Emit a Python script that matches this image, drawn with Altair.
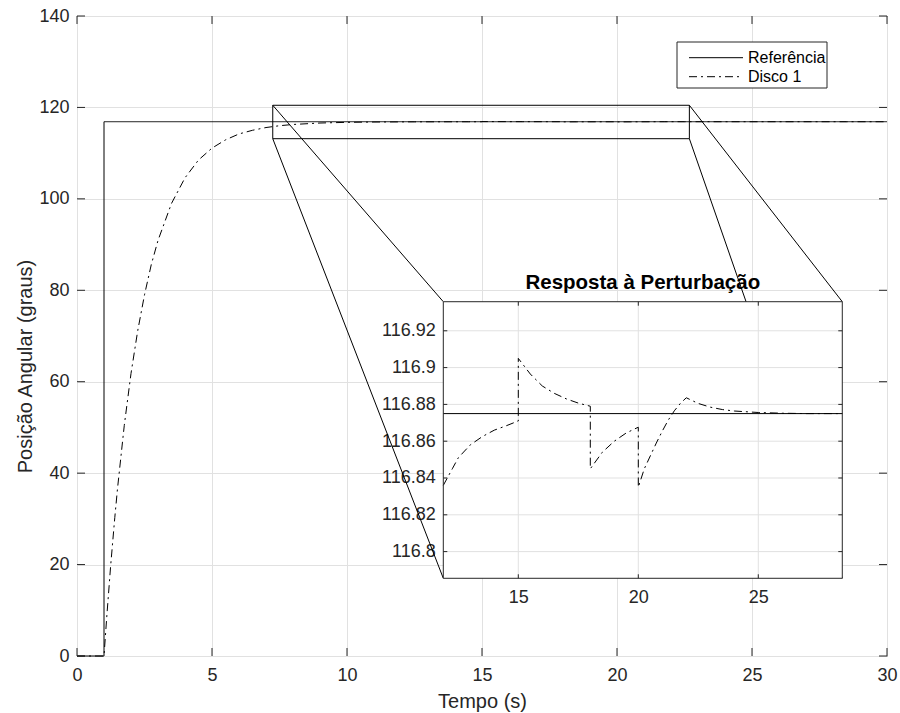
import altair as alt
import pandas as pd

FONT = "Liberation Sans"
AX = "#262626"
GRID = "#e1e1e1"
INK = "#000000"

# ---------------- data ----------------
SERIES = ["Referência", "Disco 1"]

REF_T = [0, 1, 1, 30]
REF_V = [0, 0, 116.875, 116.875]

DISCO_T = [0, 1, 1.1, 1.25, 1.4, 1.5, 1.75, 2, 2.25, 2.5, 2.75, 3, 3.5, 4, 4.5, 5, 5.5, 6, 6.5, 7, 7.5, 8, 9, 10, 11,
           11.875, 12.25, 12.5, 13, 13.5, 14, 14.5, 15, 15, 15.5, 16, 16.5, 17, 17.5, 18, 18, 18.5, 19, 19.5, 20, 20,
           20.25, 20.5, 20.75, 21, 21.25, 21.5, 21.75, 22, 22.5, 23, 23.5, 24, 25, 26, 27, 28.5, 30]
DISCO_V = [0, 0, 8.4, 20.0, 30.3, 36.6, 50.4, 61.8, 71.2, 79.0, 85.6, 90.9, 99.0, 104.6, 108.5, 111.1, 112.9, 114.2,
           115.0, 115.6, 116.0, 116.27, 116.59, 116.74, 116.81,
           116.836, 116.845, 116.851, 116.858, 116.8625, 116.866, 116.8684, 116.871, 116.905, 116.8965, 116.890,
           116.886, 116.883, 116.8807, 116.879, 116.845, 116.854, 116.860, 116.8645, 116.8676, 116.835,
           116.845, 116.852, 116.859, 116.8655, 116.8715, 116.8765, 116.8805, 116.8836, 116.8805, 116.8785,
           116.8772, 116.8764, 116.8756, 116.8752, 116.875, 116.875, 116.875]

MAIN_X_TICKS = [0, 5, 10, 15, 20, 25, 30]
MAIN_Y_TICKS = [0, 20, 40, 60, 80, 100, 120, 140]
INSET_X_TICKS = [15, 20, 25]
INSET_Y_TICKS = [116.8, 116.82, 116.84, 116.86, 116.88, 116.9, 116.92]

X_TITLE = "Tempo (s)"
Y_TITLE = "Posição Angular (graus)"
INSET_TITLE = "Resposta à Perturbação"

MAIN_X_DOMAIN = [0, 30]
MAIN_Y_DOMAIN = [0, 140]
# zoom rectangle drawn on the main axes (main data units)
ZOOM_X = [7.25, 22.68]
ZOOM_Y = [113.16, 120.47]
# where the inset sits on the main axes (main data units)
INSET_POS_X = [13.567, 28.344]
INSET_POS_Y = [17.0, 77.5]
# data window shown in the inset
INSET_X_DOMAIN = [11.875, 28.5]
INSET_Y_DOMAIN = [116.7855, 116.9358]

assert len(DISCO_T) == len(DISCO_V)

# ---------------- layout ----------------
W, H = 810, 640
PAD = {"left": 77, "top": 16, "right": 13, "bottom": 57}
TICK_FS = 18


def px(x):
    return (x - MAIN_X_DOMAIN[0]) / (MAIN_X_DOMAIN[1] - MAIN_X_DOMAIN[0]) * W


def py(y):
    return (1 - (y - MAIN_Y_DOMAIN[0]) / (MAIN_Y_DOMAIN[1] - MAIN_Y_DOMAIN[0])) * H


IX0, IX1 = px(INSET_POS_X[0]), px(INSET_POS_X[1])
IY_BOT, IY_TOP = py(INSET_POS_Y[0]), py(INSET_POS_Y[1])

DASH_SCALE = alt.Scale(domain=SERIES, range=[[1, 0], [8, 4, 2, 4]])

# ---------------- tables ----------------
rows = []
for k, (t, v) in enumerate(zip(REF_T, REF_V)):
    rows.append({"series": SERIES[0], "t": t, "v": v, "i": k})
for k, (t, v) in enumerate(zip(DISCO_T, DISCO_V)):
    rows.append({"series": SERIES[1], "t": t, "v": v, "i": k})
df_lines = pd.DataFrame(rows)
df_disco = df_lines[df_lines["series"] == SERIES[1]]

# ---------------- main axes ----------------
XS = alt.Scale(domain=MAIN_X_DOMAIN, nice=False, zero=False)
YS = alt.Scale(domain=MAIN_Y_DOMAIN, nice=False, zero=False)
COMMON = dict(ticks=False, tickSize=0, domain=False, labelFont=FONT, labelFontSize=TICK_FS, labelColor=AX,
              labelFlush=False, labelOverlap=False)
MX_AXIS = alt.Axis(values=MAIN_X_TICKS, orient="bottom", title=X_TITLE, grid=True, gridColor=GRID,
                   labelPadding=10, titleFont=FONT, titleFontSize=20, titleFontWeight="normal",
                   titleColor=AX, titleBaseline="alphabetic", titleY=51, **COMMON)
MY_AXIS = alt.Axis(values=MAIN_Y_TICKS, orient="left", title=Y_TITLE, grid=True, gridColor=GRID,
                   labelPadding=8, titleFont=FONT, titleFontSize=20, titleFontWeight="normal",
                   titleColor=AX, titleX=-52, titleY=350, titleAngle=270, titleAlign="center",
                   titleBaseline="middle", **COMMON)


def mx(f):
    return alt.X(f, type="quantitative", scale=XS, axis=MX_AXIS)


def my(f):
    return alt.Y(f, type="quantitative", scale=YS, axis=MY_AXIS)


lines = alt.Chart(df_lines).mark_line(color=INK, strokeWidth=1).encode(
    x=mx("t"), y=my("v"),
    strokeDash=alt.StrokeDash("series:N", scale=DASH_SCALE, legend=None),
    order=alt.Order("i:Q"),
)

df_zoom = pd.DataFrame({"t": [ZOOM_X[0]], "t2": [ZOOM_X[1]], "v": [ZOOM_Y[0]], "v2": [ZOOM_Y[1]]})
zoom_rect = alt.Chart(df_zoom).mark_rect(fillOpacity=0, stroke=INK, strokeWidth=1).encode(
    x=mx("t"), x2="t2", y=my("v"), y2="v2")

df_conn = pd.DataFrame({
    "t": [ZOOM_X[0], ZOOM_X[0], ZOOM_X[1], ZOOM_X[1]],
    "v": [ZOOM_Y[1], ZOOM_Y[0], ZOOM_Y[1], ZOOM_Y[0]],
    "t2": [INSET_POS_X[0], INSET_POS_X[0], INSET_POS_X[1], INSET_POS_X[1]],
    "v2": [INSET_POS_Y[1], INSET_POS_Y[0], INSET_POS_Y[1], INSET_POS_Y[0]],
})
connectors = alt.Chart(df_conn).mark_rule(color=INK, strokeWidth=1).encode(
    x=mx("t"), y=my("v"), x2="t2", y2="v2")

TL = 8
df_mxt = pd.DataFrame({"t": MAIN_X_TICKS})
df_myt = pd.DataFrame({"v": MAIN_Y_TICKS})
tick_b = alt.Chart(df_mxt).mark_rule(color=AX).encode(x=mx("t"), y=alt.value(H), y2=alt.value(H - TL))
tick_t = alt.Chart(df_mxt).mark_rule(color=AX).encode(x=mx("t"), y=alt.value(0), y2=alt.value(TL))
tick_l = alt.Chart(df_myt).mark_rule(color=AX).encode(y=my("v"), x=alt.value(0), x2=alt.value(TL))
tick_r = alt.Chart(df_myt).mark_rule(color=AX).encode(y=my("v"), x=alt.value(W), x2=alt.value(W - TL))

main = alt.layer(lines, zoom_rect, connectors, tick_b, tick_t, tick_l, tick_r)

# ---------------- inset axes ----------------
IXS = alt.Scale(domain=INSET_X_DOMAIN, range=[IX0, IX1], nice=False, zero=False)
IYS = alt.Scale(domain=INSET_Y_DOMAIN, range=[IY_BOT, IY_TOP], nice=False, zero=False)
IX_AXIS = alt.Axis(values=INSET_X_TICKS, orient="bottom", offset=-(H - IY_BOT), grid=False,
                   labelPadding=10, title=None, **COMMON)
IY_AXIS = alt.Axis(values=INSET_Y_TICKS, orient="left", offset=-IX0, grid=False, format="~g",
                   labelPadding=8, title=None, **COMMON)


def ix(f):
    return alt.X(f, type="quantitative", scale=IXS, axis=IX_AXIS)


def iy(f):
    return alt.Y(f, type="quantitative", scale=IYS, axis=IY_AXIS)


df_box = pd.DataFrame({"t": [INSET_X_DOMAIN[0]], "t2": [INSET_X_DOMAIN[1]],
                       "v": [INSET_Y_DOMAIN[0]], "v2": [INSET_Y_DOMAIN[1]]})
inset_bg = alt.Chart(df_box).mark_rect(fill="white", strokeOpacity=0).encode(
    x=ix("t"), x2="t2", y=iy("v"), y2="v2")
inset_border = alt.Chart(df_box).mark_rect(fillOpacity=0, stroke=AX, strokeWidth=1).encode(
    x=ix("t"), x2="t2", y=iy("v"), y2="v2")

df_ixt = pd.DataFrame({"t": INSET_X_TICKS})
df_iyt = pd.DataFrame({"v": INSET_Y_TICKS})
igrid_x = alt.Chart(df_ixt).mark_rule(color=GRID).encode(x=ix("t"), y=alt.value(IY_TOP), y2=alt.value(IY_BOT))
igrid_y = alt.Chart(df_iyt).mark_rule(color=GRID).encode(y=iy("v"), x=alt.value(IX0), x2=alt.value(IX1))

df_ref_level = pd.DataFrame({"v": [REF_V[-1]]})
inset_ref = alt.Chart(df_ref_level).mark_rule(color=INK, strokeWidth=1).encode(
    y=iy("v"), x=alt.value(IX0), x2=alt.value(IX1))

inset_disco = alt.Chart(df_disco).transform_filter(
    alt.FieldRangePredicate(field="t", range=INSET_X_DOMAIN)
).mark_line(color=INK, strokeWidth=1).encode(
    x=ix("t"), y=iy("v"),
    strokeDash=alt.StrokeDash("series:N", scale=DASH_SCALE, legend=None),
    order=alt.Order("i:Q"),
)

ITL = 4
itick_b = alt.Chart(df_ixt).mark_rule(color=AX).encode(x=ix("t"), y=alt.value(IY_BOT), y2=alt.value(IY_BOT - ITL))
itick_t = alt.Chart(df_ixt).mark_rule(color=AX).encode(x=ix("t"), y=alt.value(IY_TOP), y2=alt.value(IY_TOP + ITL))
itick_l = alt.Chart(df_iyt).mark_rule(color=AX).encode(y=iy("v"), x=alt.value(IX0), x2=alt.value(IX0 + ITL))
itick_r = alt.Chart(df_iyt).mark_rule(color=AX).encode(y=iy("v"), x=alt.value(IX1), x2=alt.value(IX1 - ITL))

df_title = pd.DataFrame({"label": [INSET_TITLE]})
inset_title = alt.Chart(df_title).mark_text(
    font=FONT, fontSize=20.5, fontWeight="bold", color=INK, align="center", baseline="alphabetic"
).encode(text="label:N", x=alt.value((IX0 + IX1) / 2), y=alt.value(IY_TOP - 12.5))

inset = alt.layer(inset_bg, igrid_x, igrid_y, inset_ref, inset_disco,
                  itick_b, itick_t, itick_l, itick_r, inset_border, inset_title)

# ---------------- legend (drawn as marks) ----------------
LX0, LX1, LY0, LY1 = 600, 750, 26, 72
ROW_Y = [41.7, 60.7]
df_leg = pd.DataFrame({"series": SERIES})
leg_box = alt.Chart(df_leg.iloc[:1]).mark_rect(fill="white", stroke=AX, strokeWidth=1).encode(
    x=alt.value(LX0), x2=alt.value(LX1), y=alt.value(LY0), y2=alt.value(LY1))
leg_layers = [leg_box]
for name, ry in zip(SERIES, ROW_Y):
    sub = alt.Chart(df_leg).transform_filter(alt.FieldEqualPredicate(field="series", equal=name))
    leg_layers.append(sub.mark_rule(color=INK, strokeWidth=1).encode(
        x=alt.value(612), x2=alt.value(666), y=alt.value(ry),
        strokeDash=alt.StrokeDash("series:N", scale=DASH_SCALE, legend=None)))
    leg_layers.append(sub.mark_text(font=FONT, fontSize=16, color=INK, align="left", baseline="middle").encode(
        text="series:N", x=alt.value(671), y=alt.value(ry)))
legend = alt.layer(*leg_layers)

chart = alt.layer(main, inset, legend).resolve_scale(
    x="independent", y="independent"
).properties(
    width=W, height=H, padding=PAD, autosize=alt.AutoSizeParams(type="none"), background="white"
).configure_view(stroke=AX, strokeWidth=1)

chart.save("out.html", embed_options={"renderer": "svg", "actions": False})
